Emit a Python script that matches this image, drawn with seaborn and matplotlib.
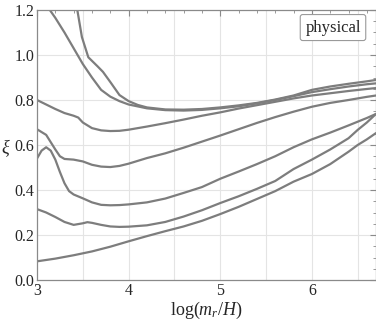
import numpy as np
import pandas as pd
import matplotlib
matplotlib.use("Agg")
import matplotlib.pyplot as plt
from matplotlib.ticker import MultipleLocator
import seaborn as sns

# values, one curve per list
x_a = [3.40, 3.44, 3.49, 3.56, 3.61, 3.66, 3.72, 3.80, 3.90, 4.00, 4.10, 4.20, 4.40, 4.60,
       4.80, 5.00, 5.20, 5.40, 5.60, 5.80, 6.00, 6.20, 6.40, 6.60, 6.70]
y_a = [1.30, 1.20, 1.08, 0.99, 0.97, 0.95, 0.925, 0.88, 0.822, 0.795, 0.778, 0.767, 0.758, 0.757,
       0.760, 0.767, 0.776, 0.787, 0.802, 0.820, 0.845, 0.860, 0.872, 0.883, 0.889]

x_b = [3.10, 3.14, 3.20, 3.30, 3.40, 3.50, 3.60, 3.70, 3.80, 3.90, 4.00, 4.20, 4.40, 4.60,
       4.80, 5.00, 5.20, 5.40, 5.60, 5.80, 6.00, 6.20, 6.40, 6.60, 6.70]
y_b = [1.23, 1.20, 1.165, 1.10, 1.03, 0.96, 0.90, 0.845, 0.815, 0.795, 0.780, 0.763, 0.755, 0.753,
       0.756, 0.763, 0.772, 0.785, 0.800, 0.817, 0.835, 0.848, 0.860, 0.870, 0.874]

x_c = [3.00, 3.10, 3.20, 3.30, 3.40, 3.45, 3.50, 3.60, 3.70, 3.80, 3.90, 4.00, 4.10, 4.20,
       4.40, 4.60, 4.80, 5.00, 5.20, 5.40, 5.60, 5.80, 6.00, 6.20, 6.40, 6.60, 6.70]
y_c = [0.800, 0.780, 0.760, 0.742, 0.730, 0.722, 0.700, 0.675, 0.665, 0.662, 0.663, 0.668, 0.675, 0.682,
       0.697, 0.713, 0.730, 0.745, 0.762, 0.777, 0.792, 0.807, 0.820, 0.830, 0.840, 0.849, 0.853]

x_d = [3.00, 3.10, 3.20, 3.25, 3.30, 3.40, 3.50, 3.60, 3.70, 3.80, 3.90, 4.00, 4.20, 4.40,
       4.60, 4.80, 5.00, 5.20, 5.40, 5.60, 5.80, 6.00, 6.20, 6.40, 6.60, 6.70]
y_d = [0.670, 0.645, 0.580, 0.550, 0.538, 0.535, 0.527, 0.512, 0.504, 0.502, 0.507, 0.517, 0.542, 0.563,
       0.588, 0.615, 0.642, 0.670, 0.698, 0.724, 0.748, 0.770, 0.787, 0.800, 0.814, 0.820]

x_e = [3.00, 3.05, 3.10, 3.15, 3.20, 3.25, 3.30, 3.35, 3.40, 3.50, 3.60, 3.70, 3.80, 3.90,
       4.00, 4.20, 4.40, 4.60, 4.80, 5.00, 5.20, 5.40, 5.60, 5.80, 6.00, 6.20, 6.40, 6.60, 6.70]
y_e = [0.540, 0.575, 0.590, 0.575, 0.535, 0.480, 0.430, 0.395, 0.380, 0.363, 0.345, 0.334, 0.332, 0.333,
       0.336, 0.345, 0.362, 0.387, 0.413, 0.450, 0.482, 0.515, 0.550, 0.590, 0.625, 0.655, 0.687, 0.720, 0.738]

x_f = [3.00, 3.10, 3.20, 3.30, 3.40, 3.50, 3.55, 3.60, 3.70, 3.80, 3.90, 4.00, 4.20, 4.40,
       4.60, 4.80, 5.00, 5.20, 5.40, 5.60, 5.80, 6.00, 6.20, 6.40, 6.50, 6.60, 6.70]
y_f = [0.315, 0.300, 0.280, 0.258, 0.245, 0.252, 0.257, 0.254, 0.245, 0.238, 0.236, 0.237, 0.243, 0.258,
       0.282, 0.310, 0.342, 0.372, 0.405, 0.440, 0.493, 0.535, 0.580, 0.630, 0.667, 0.700, 0.738]

x_g = [3.00, 3.20, 3.40, 3.60, 3.80, 4.00, 4.20, 4.40, 4.60, 4.80, 5.00, 5.20, 5.40, 5.60,
       5.80, 6.00, 6.20, 6.40, 6.50, 6.60, 6.70]
y_g = [0.083, 0.095, 0.110, 0.127, 0.148, 0.172, 0.195, 0.217, 0.238, 0.263, 0.293, 0.325, 0.360, 0.395,
       0.437, 0.471, 0.515, 0.570, 0.600, 0.625, 0.653]

curves = {"a": (x_a, y_a), "b": (x_b, y_b), "c": (x_c, y_c), "d": (x_d, y_d),
          "e": (x_e, y_e), "f": (x_f, y_f), "g": (x_g, y_g)}

rows = []
for name, (xs, ys) in curves.items():
    for xv, yv in zip(xs, ys):
        rows.append({"curve": name, "x": xv, "y": yv})
df = pd.DataFrame(rows)

sns.set_style("white")
plt.rcParams["font.family"] = ["Liberation Serif", "DejaVu Serif"]
plt.rcParams["mathtext.fontset"] = "custom"
plt.rcParams["mathtext.rm"] = "Liberation Serif"
plt.rcParams["mathtext.it"] = "Liberation Serif:italic"

fig = plt.figure(figsize=(3.76, 3.27), dpi=100)
ax = fig.add_axes([37 / 376, 47 / 327, 339 / 376, 270 / 327])

sns.lineplot(data=df, x="x", y="y", hue="curve", units="curve", estimator=None, sort=False,
             palette=["#7d7d7d"] * 7, linewidth=1.6, legend=False, ax=ax)

ax.set_xlim(3, 6.7)
ax.set_ylim(0, 1.2)
ax.xaxis.set_major_locator(MultipleLocator(1))
ax.xaxis.set_minor_locator(MultipleLocator(0.2))
ax.yaxis.set_major_locator(MultipleLocator(0.2))
ax.yaxis.set_minor_locator(MultipleLocator(0.05))
ax.yaxis.set_major_formatter(matplotlib.ticker.FormatStrFormatter("%.1f"))

for xv in np.arange(3.5, 6.7, 0.5):
    ax.axvline(xv, color="#e4e4e4", lw=0.8, zorder=0)
for yv in np.arange(0.2, 1.2, 0.2):
    ax.axhline(yv, color="#e4e4e4", lw=0.8, zorder=0)

ax.tick_params(which="both", direction="in", top=True, right=True, color="#8a8a8a",
               labelsize=11.5, pad=2)
ax.tick_params(which="major", length=4, width=0.8)
ax.tick_params(which="minor", length=2, width=0.6)
for s in ax.spines.values():
    s.set_color("#8a8a8a")
    s.set_linewidth(0.9)

ax.set_xlabel(r"log$(m_r/H)$", fontsize=13, labelpad=1)
ax.set_ylabel(r"$\xi$", fontsize=13, rotation=0, va="center", ha="center")
ax.yaxis.set_label_coords(-0.092, 0.49)

ax.text(0.955, 0.935, "physical", transform=ax.transAxes, ha="right", va="center", fontsize=12,
        bbox=dict(boxstyle="round,pad=0.3,rounding_size=0.15", fc="white", ec="#9a9a9a", lw=0.8))

fig.savefig("out.png", dpi=100)
